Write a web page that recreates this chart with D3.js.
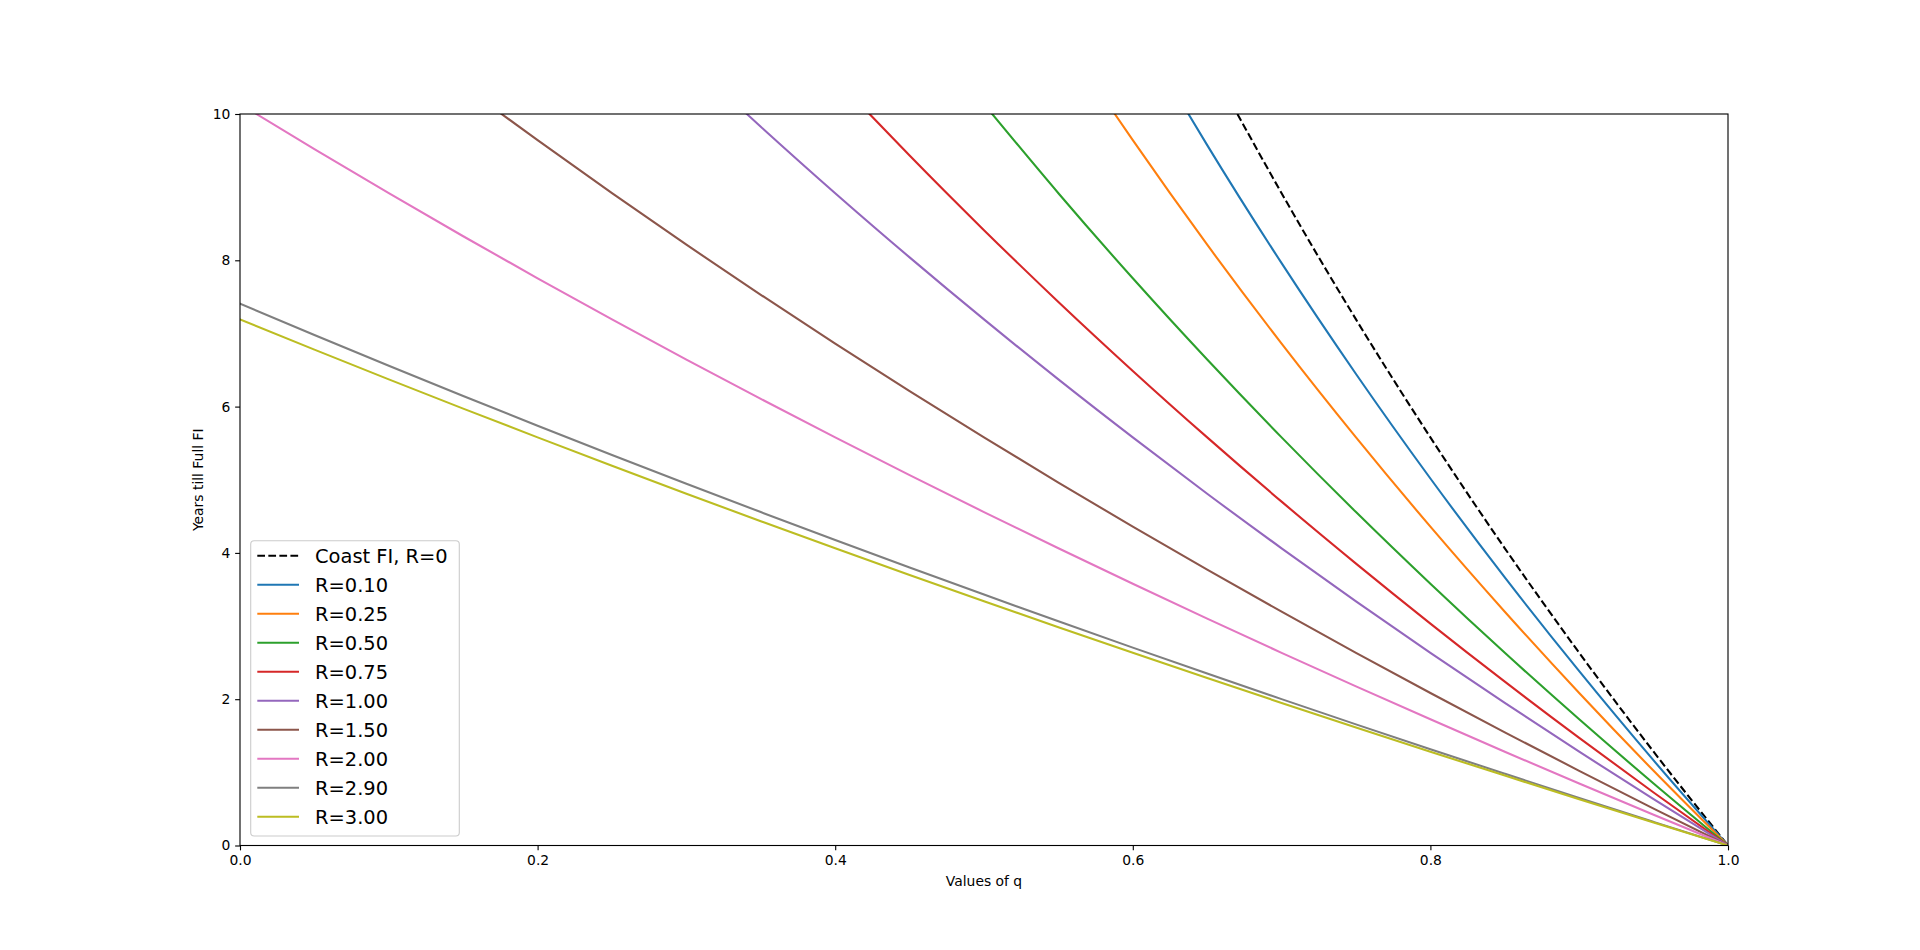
<!DOCTYPE html>
<html>
<head>
<meta charset="utf-8">
<script src="https://cdn.jsdelivr.net/npm/d3@7"></script>
<style>
  html, body { margin: 0; padding: 0; background: #ffffff; }
  svg { display: block; font-family: "DejaVu Sans", sans-serif; }
</style>
</head>
<body>
<svg id="chart" width="1920" height="950"></svg>
<script>
// ---- data ----
const qGrid = [0.00, 0.05, 0.10, 0.15, 0.20, 0.25, 0.30, 0.35, 0.40, 0.45, 0.50,
               0.55, 0.60, 0.65, 0.70, 0.75, 0.80, 0.85, 0.90, 0.95, 1.00];
const xTicks = [0.0, 0.2, 0.4, 0.6, 0.8, 1.0];
const yTicks = [0, 2, 4, 6, 8, 10];

const seriesLabels = ["Coast FI, R=0", "R=0.10", "R=0.25", "R=0.50", "R=0.75",
                      "R=1.00", "R=1.50", "R=2.00", "R=2.90", "R=3.00"];
// q where each curve leaves the top of the plot (t = 10); null = starts at q = 0
const crossQ = [0.6703, 0.6374, 0.5879, 0.5055, 0.4231, 0.3406, 0.1758, 0.0110, null, null];

// years till full FI at the grid values of q beyond the crossing
const tCoast = [8.917, 7.192, 5.579, 4.063, 2.634, 1.282, 0];
const tR010 = [9.575, 7.961, 6.446, 5.017, 3.665, 2.383, 1.163, 0];
const tR025 = [9.642, 8.213, 6.861, 5.579, 4.359, 3.196, 2.085, 1.021, 0];
const tR050 = [8.917, 7.754, 6.643, 5.579, 4.558, 3.578, 2.634, 1.725, 0.848, 0];
const tR075 = [9.432, 8.412, 7.431, 6.488, 5.579, 4.701, 3.854, 3.034, 2.240, 1.471, 0.725, 0];
const tR100 = [9.826, 8.917, 8.040, 7.192, 6.372, 5.579, 4.809, 4.063, 3.338, 2.634, 1.949, 1.282, 0.633, 0];
const tR150 = [9.642, 8.917, 8.213, 7.528, 6.861, 6.212, 5.579, 4.961, 4.359, 3.771, 3.196, 2.634, 2.085, 1.547, 1.021, 0.505, 0];
const tR200 = [9.519, 8.917, 8.329, 7.754, 7.192, 6.643, 6.105, 5.579, 5.063, 4.558, 4.063, 3.578, 3.101, 2.634, 2.175, 1.725, 1.282, 0.848, 0.420, 0];
const tR290 = [7.407, 6.979, 6.559, 6.146, 5.739, 5.339, 4.946, 4.558, 4.176, 3.800, 3.430, 3.065, 2.705, 2.351, 2.001, 1.656, 1.316, 0.981, 0.649, 0.323, 0];
const tR300 = [7.192, 6.779, 6.372, 5.972, 5.579, 5.191, 4.809, 4.433, 4.063, 3.698, 3.338, 2.984, 2.634, 2.289, 1.949, 1.613, 1.282, 0.956, 0.633, 0.314, 0];

const seriesValues = [tCoast, tR010, tR025, tR050, tR075, tR100, tR150, tR200, tR290, tR300];
const seriesColors = ["#000000", "#1f77b4", "#ff7f0e", "#2ca02c", "#d62728",
                      "#9467bd", "#8c564b", "#e377c2", "#7f7f7f", "#bcbd22"];

// ---- layout ----
const W = 1920, H = 950;
const L = 240, R = 1728, T = 114, B = 845.5;
const PT = 100 / 72;           // one point in pixels at 100 dpi
const LW = 1.5 * PT;           // line width
const DASH = `${3.7 * 1.5 * PT},${1.6 * 1.5 * PT}`;

const svg = d3.select("#chart");
svg.append("rect").attr("width", W).attr("height", H).attr("fill", "#ffffff");

const x = d3.scaleLinear().domain([0, 1]).range([L, R]);
const y = d3.scaleLinear().domain([0, 10]).range([B, T]);

svg.append("defs").append("clipPath").attr("id", "plotclip")
  .append("rect").attr("x", L).attr("y", T).attr("width", R - L).attr("height", B - T);

// build point lists
const seriesPoints = seriesValues.map((vals, i) => {
  const c = crossQ[i];
  const pts = [];
  if (c !== null) pts.push({ q: c, t: 10 });
  const qs = qGrid.filter(q => c === null || q > c);
  qs.forEach((q, k) => pts.push({ q: q, t: vals[k] }));
  return pts;
});

const line = d3.line().x(d => x(d.q)).y(d => y(d.t)).curve(d3.curveMonotoneX);

const gLines = svg.append("g").attr("clip-path", "url(#plotclip)");
seriesPoints.forEach((pts, i) => {
  gLines.append("path")
    .attr("d", line(pts))
    .attr("fill", "none")
    .attr("stroke", seriesColors[i])
    .attr("stroke-width", LW)
    .attr("stroke-dasharray", i === 0 ? DASH : null)
    .attr("stroke-linejoin", "round")
    .attr("stroke-linecap", i === 0 ? "butt" : "square");
});

// axes
const tickFont = 10 * PT;
const tickLen = 3.5 * PT;
const xAxis = d3.axisBottom(x).tickValues(xTicks).tickFormat(d3.format(".1f"))
  .tickSize(tickLen).tickPadding(tickLen).tickSizeOuter(0);
const yAxis = d3.axisLeft(y).tickValues(yTicks).tickFormat(d3.format("d"))
  .tickSize(tickLen).tickPadding(tickLen).tickSizeOuter(0);

const gx = svg.append("g").attr("transform", `translate(0,${B})`).call(xAxis);
const gy = svg.append("g").attr("transform", `translate(${L},0)`).call(yAxis);
[gx, gy].forEach(g => {
  g.select(".domain").remove();
  g.selectAll(".tick line").attr("stroke", "#000").attr("stroke-width", 0.8 * PT);
  g.selectAll(".tick text").attr("fill", "#000").attr("font-size", tickFont)
    .attr("font-family", "DejaVu Sans, sans-serif");
});

// frame
svg.append("rect").attr("x", L).attr("y", T).attr("width", R - L).attr("height", B - T)
  .attr("fill", "none").attr("stroke", "#000").attr("stroke-width", 0.8 * PT);

// axis labels
svg.append("text").attr("x", (L + R) / 2).attr("y", 886)
  .attr("text-anchor", "middle").attr("font-size", tickFont).attr("fill", "#000")
  .text("Values of q");
svg.append("text")
  .attr("transform", `translate(203,${(T + B) / 2}) rotate(-90)`)
  .attr("text-anchor", "middle").attr("font-size", tickFont).attr("fill", "#000")
  .text("Years till Full FI");

// legend
const legFont = 14 * PT;
const rowH = 29.0;
const firstRowY = 555.7;
const legX = 250.7, legY = 540.7;
const leg = svg.append("g");
const legBox = leg.append("rect")
  .attr("x", legX).attr("y", legY).attr("rx", 3.5).attr("ry", 3.5)
  .attr("fill", "#ffffff").attr("fill-opacity", 0.8)
  .attr("stroke", "#cccccc").attr("stroke-width", 0.8 * PT);

let maxRight = 0;
seriesLabels.forEach((lab, i) => {
  const yy = firstRowY + i * rowH;
  leg.append("line")
    .attr("x1", 257.3).attr("x2", 299).attr("y1", yy).attr("y2", yy)
    .attr("stroke", seriesColors[i])
    .attr("stroke-width", LW)
    .attr("stroke-dasharray", i === 0 ? DASH : null);
  const t = leg.append("text").attr("x", 315).attr("y", yy + 7)
    .attr("font-size", legFont).attr("fill", "#000").text(lab);
  const bb = t.node().getBBox();
  maxRight = Math.max(maxRight, bb.x + bb.width);
});
legBox.attr("width", Math.max(208.6, maxRight + 9.5 - legX))
      .attr("height", 836 - legY);
</script>
</body>
</html>
